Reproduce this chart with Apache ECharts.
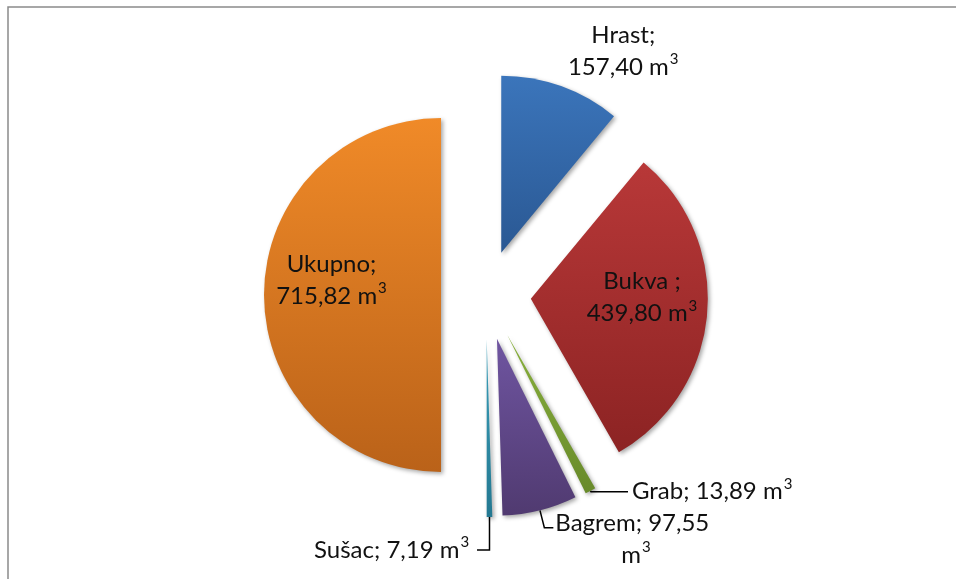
<!DOCTYPE html>
<html>
<head>
<meta charset="utf-8">
<script src="https://cdn.jsdelivr.net/npm/echarts@6/dist/echarts.min.js"></script>
<style>
  html, body { margin: 0; padding: 0; background: #fff; }
  #chart { width: 956px; height: 579px; }
</style>
</head>
<body>
<div id="chart"></div>
<script>
// vrste drveta i volumen (m3)
const names = ['Hrast', 'Bukva', 'Grab', 'Bagrem', 'Sušac', 'Ukupno'];
const values = [157.40, 439.80, 13.89, 97.55, 7.19, 715.82];
const labelText = ['Hrast;', 'Bukva ;', 'Grab;', 'Bagrem;', 'Sušac;', 'Ukupno;'];
const valueText = ['157,40', '439,80', '13,89', '97,55', '7,19', '715,82'];

// gradient boje (gore, dolje)
const colorsTop = ['#3b75bb', '#b83838', '#88b03c', '#6f55a1', '#3a9fba', '#f08a28'];
const colorsBottom = ['#2a5893', '#8c2323', '#688a2a', '#503a70', '#237891', '#ba6219'];

function grad(i) {
    return new echarts.graphic.LinearGradient(0, 0, 0, 1, [
        { offset: 0, color: colorsTop[i] },
        { offset: 1, color: colorsBottom[i] }
    ]);
}

const rich = {
    a: { fontSize: 24, lineHeight: 32, color: '#111', fontFamily: 'Lato' },
    s: { fontSize: 15, lineHeight: 32, color: '#111', fontFamily: 'Lato', verticalAlign: 'top', padding: [1, 0, 0, 1] },
    sp: { fontSize: 24, lineHeight: 32, width: 66 }
};

function fmt(i, twoLines) {
    if (i === 3) {
        return '{a|' + labelText[i] + ' ' + valueText[i] + '}\n{sp| }{a|m}{s|3}';
    }
    return '{a|' + labelText[i] + '}' + (twoLines ? '\n' : '{a| }') + '{a|' + valueText[i] + ' m}{s|3}';
}

const data = names.map(function (n, i) {
    return {
        name: n,
        value: values[i],
        selected: true,
        itemStyle: { color: grad(i) },
        label: { formatter: fmt(i, i === 0 || i === 1 || i === 5), rich: rich }
    };
});

// pozicije natpisa
data[0].label.position = 'outside';
data[0].labelLine = { show: false };
data[1].label.position = 'inside';
data[5].label.position = 'inside';
data[2].label.position = 'outside';
data[2].label.distanceToLabelLine = 4;
data[2].labelLine = { show: true, length: 1, length2: 37 };
data[3].label.position = 'outside';
data[3].label.distanceToLabelLine = 2;
data[3].labelLine = { show: true, length: 18, length2: 9 };
data[3].label.padding = [22, 0, 0, 0];
data[4].label.position = 'outside';
data[4].labelLine = { show: true, length: 33, length2: -13 };

const option = {
    animation: false,
    graphic: [{
        type: 'rect',
        shape: { x: 8, y: 7, width: 2000, height: 2000 },
        style: { fill: 'none', stroke: '#8a8a8a', lineWidth: 1.5 },
        z: 0
    }],
    series: [{
        type: 'pie',
        center: [486, 295],
        radius: 177,
        startAngle: 90,
        clockwise: true,
        selectedMode: 'multiple',
        selectedOffset: 45,
        avoidLabelOverlap: false,
        itemStyle: {
            shadowColor: 'rgba(0,0,0,0.35)',
            shadowBlur: 4,
            shadowOffsetX: 2,
            shadowOffsetY: 2
        },
        emphasis: { disabled: true },
        label: { show: true },
        labelLine: { lineStyle: { color: '#000', width: 1.5 } },
        labelLayout: function (params) {
            if (params.dataIndex === 0) {
                return { dx: 22, dy: -21, align: 'center' };
            }
            if (params.dataIndex === 1) {
                return { dx: 20, dy: -9 };
            }
            if (params.dataIndex === 4) {
                return { dx: -168, dy: 0 };
            }
            if (params.dataIndex === 5) {
                return { dx: -18, dy: -15 };
            }
        },
        data: data
    }]
};

const chart = echarts.init(document.getElementById('chart'));
chart.setOption(option);
</script>
</body>
</html>
